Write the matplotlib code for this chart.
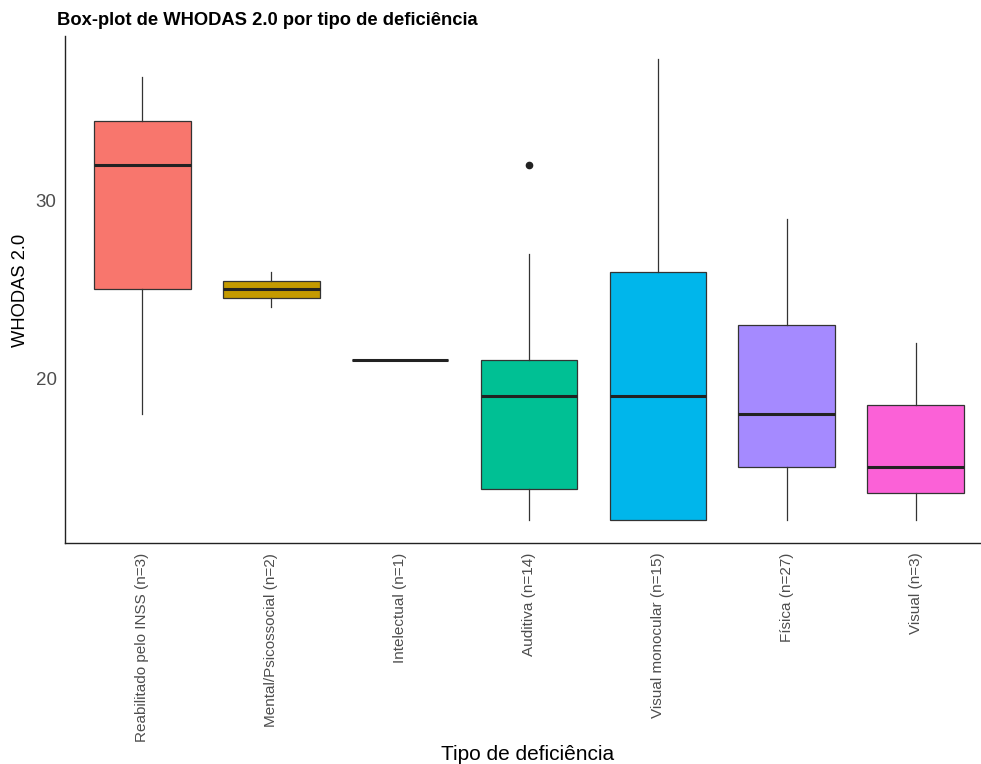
import matplotlib
matplotlib.use('Agg')
import matplotlib.pyplot as plt

plt.rcParams['font.family'] = ['Liberation Sans', 'DejaVu Sans']

categorias = ["Reabilitado pelo INSS (n=3)", "Mental/Psicossocial (n=2)", "Intelectual (n=1)",
              "Auditiva (n=14)", "Visual monocular (n=15)", "Física (n=27)", "Visual (n=3)"]
minimo = [18, 24, 21, 12, 12, 12, 12]
q1 = [25, 24.5, 21, 13.75, 12, 15, 13.5]
mediana = [32, 25, 21, 19, 19, 18, 15]
q3 = [34.5, 25.5, 21, 21, 26, 23, 18.5]
maximo = [37, 26, 21, 27, 38, 29, 22]
outliers = [[], [], [], [32], [], [], []]
cores = ["#F8766D", "#C49A00", "#53B400", "#00C094", "#00B6EB", "#A58AFF", "#FB61D7"]

stats = []
for i, nome in enumerate(categorias):
    stats.append(dict(label=nome, whislo=minimo[i], q1=q1[i], med=mediana[i],
                      q3=q3[i], whishi=maximo[i], fliers=outliers[i]))

fig = plt.figure(figsize=(9.81, 7.64), dpi=100)
ax = fig.add_axes([0.0663, 0.2893, 0.9337, 0.6636])

bp = ax.bxp(stats, positions=range(1, 8), widths=0.75, patch_artist=True, showcaps=False,
            boxprops=dict(edgecolor='#333333', linewidth=0.9),
            whiskerprops=dict(color='#333333', linewidth=0.9),
            medianprops=dict(color='#222222', linewidth=2.2, solid_capstyle='butt'),
            flierprops=dict(marker='o', markerfacecolor='#222222', markeredgecolor='#222222',
                            markersize=4.5))
for caixa, cor in zip(bp['boxes'], cores):
    caixa.set_facecolor(cor)

ax.set_xlim(0.4, 7.507)
ax.set_ylim(10.7, 39.3)
ax.set_yticks([20, 30])
ax.set_xticks(range(1, 8))
ax.set_xticklabels(categorias, rotation=90, va='top', ha='center')
ax.tick_params(length=0, labelsize=11, labelcolor='#4D4D4D', pad=7)
ax.tick_params(axis='y', labelsize=13.5, pad=6)
for lado in ['top', 'right']:
    ax.spines[lado].set_visible(False)
for lado in ['left', 'bottom']:
    ax.spines[lado].set_linewidth(1.0)
    ax.spines[lado].set_color('#222222')

fig.text(0.0214, 0.62, "WHODAS 2.0", fontsize=13.2, rotation=90, ha='center', va='center')
fig.text(0.538, 0.0118, "Tipo de deficiência", fontsize=15, ha='center', va='center')
fig.text(0.058, 0.973, "Box-plot de WHODAS 2.0 por tipo de deficiência",
         fontsize=13.2, fontweight='bold', ha='left', va='center')

fig.savefig("out.png", dpi=100)
